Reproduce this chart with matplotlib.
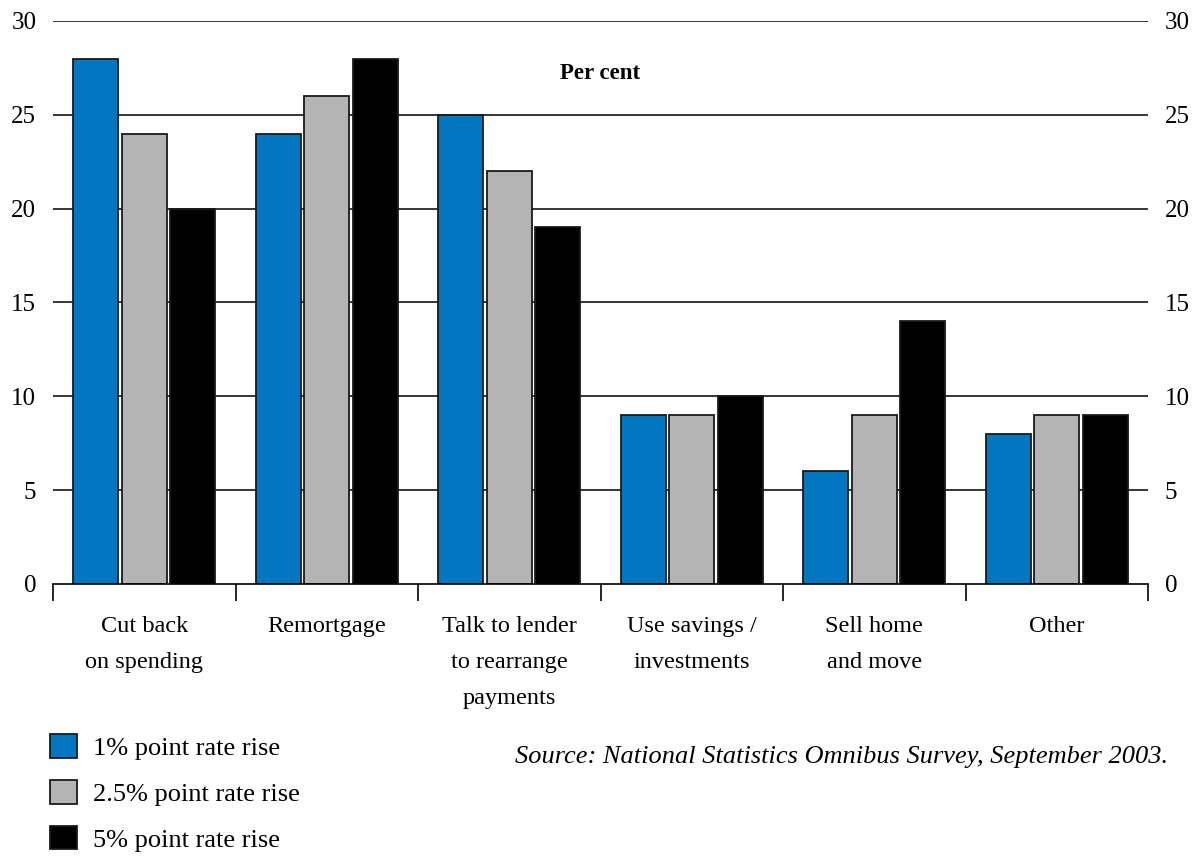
import numpy as np
import matplotlib.pyplot as plt
from matplotlib.patches import Patch

categories = ["Cut back\non spending", "Remortgage", "Talk to lender\nto rearrange\npayments",
              "Use savings /\ninvestments", "Sell home\nand move", "Other"]
rise_1 = [28, 24, 25, 9, 6, 8]
rise_25 = [24, 26, 22, 9, 9, 9]
rise_5 = [20, 28, 19, 10, 14, 9]
series_labels = ["1% point rate rise", "2.5% point rate rise", "5% point rate rise"]
colors = ["#0077c0", "#b4b4b4", "#000000"]
yticks = [0, 5, 10, 15, 20, 25, 30]

plt.rcParams['font.family'] = ['Liberation Serif', 'DejaVu Serif']

fig = plt.figure(figsize=(11.99, 8.56), dpi=100)
ax = fig.add_axes([0.0442, 0.3178, 0.9133, 0.6577])

x = np.arange(len(categories)) + 0.5
w = 0.245
step = 0.266
for k, vals in enumerate([rise_1, rise_25, rise_5]):
    ax.bar(x + (k - 1) * step, vals, width=w, color=colors[k], edgecolor="#1a1a1a",
           linewidth=1.3, zorder=3)

ax.set_xlim(0, len(categories))
ax.set_ylim(0, 30)
for v in yticks[1:]:
    ax.axhline(v, color="black", linewidth=1.1, zorder=1)

# separators between categories, labels centred in between
ax.set_xticks(np.arange(len(categories) + 1))
ax.set_xticklabels([])
ax.tick_params(axis="x", which="major", direction="out", length=12, width=1.2)
ax.set_xticks(x, minor=True)
ax.set_xticklabels(categories, minor=True, fontsize=17.5, linespacing=1.95)
ax.tick_params(axis="x", which="minor", length=0, pad=23)

ax.set_yticks(yticks)
ax.set_yticklabels([str(v) for v in yticks], fontsize=18)
ax.tick_params(axis="y", length=0, pad=12, labelright=True, right=False)
for t in ax.yaxis.get_major_ticks():
    t.label1.set_horizontalalignment("right")
    t.label2.set_horizontalalignment("left")

for s in ["top", "left", "right"]:
    ax.spines[s].set_visible(False)
ax.spines["bottom"].set_linewidth(1.2)
ax.spines["bottom"].set_zorder(4)

ax.text(0.5, 0.907, "Per cent", transform=ax.transAxes, ha="center", va="center",
        fontsize=16.5, fontweight="bold")

handles = [Patch(facecolor=c, edgecolor="#1a1a1a", linewidth=1.3) for c in colors]
fig.legend(handles, series_labels, loc="upper left", bbox_to_anchor=(0.042, 0.142),
           frameon=False, fontsize=19, handlelength=1.0, handleheight=1.0,
           labelspacing=0.75, handletextpad=0.6, borderaxespad=0, borderpad=0)

fig.text(0.974, 0.116, "Source: National Statistics Omnibus Survey, September 2003.",
         ha="right", va="center", fontsize=19, style="italic")

fig.savefig("out.png", dpi=100)
